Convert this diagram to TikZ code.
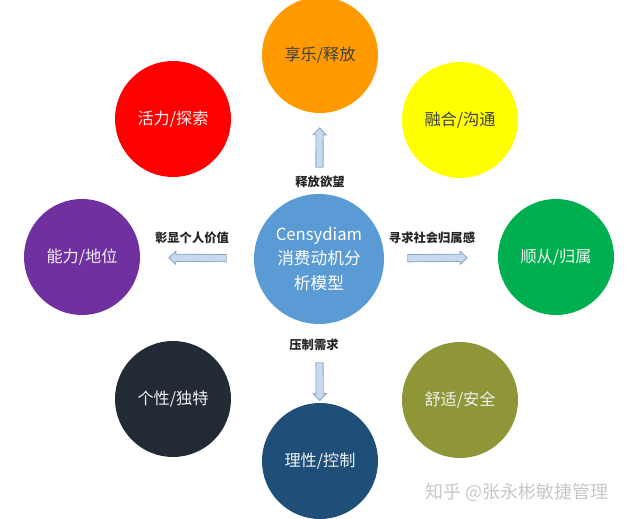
\documentclass[tikz,border=0pt]{standalone}
\usepackage{fontspec}
\setmainfont{Noto Sans CJK SC}
\usetikzlibrary{arrows.meta}
\definecolor{CoreBlue}{HTML}{5B9BD5}
\definecolor{PleasureOrange}{HTML}{FF9A00}
\definecolor{HarmonyYellow}{HTML}{FFFF00}
\definecolor{BelongGreen}{HTML}{00B050}
\definecolor{SecurityOlive}{HTML}{8E9638}
\definecolor{ControlNavy}{HTML}{1F4E79}
\definecolor{IdentityDark}{HTML}{222A35}
\definecolor{PowerPurple}{HTML}{7030A0}
\definecolor{VitalityRed}{HTML}{FF0000}
\definecolor{ArrowFill}{HTML}{C6D9F0}
\definecolor{ArrowEdge}{HTML}{8EA4BF}
\tikzset{
  motivenode/.style = {circle, align=center, inner sep=0pt, minimum size=2.32cm, font=\fontsize{9.2pt}{11pt}\selectfont},
  LightNode/.style = {motivenode, fill=#1, text=black!75},
  DarkNode/.style = {motivenode, fill=#1, text=white!95!black},
  CoreNode/.style = {circle, align=center, inner sep=0pt, minimum size=2.6cm, fill=CoreBlue, text=white, font=\fontsize{9.5pt}{14.2pt}\selectfont},
  FlowLabel/.style = {font=\fontsize{7pt}{8pt}\selectfont\bfseries, text=black!85},
  FlowArrow/.style 2 args = {draw=ArrowEdge, line width=4.6pt, shorten <=#1, shorten >=#2,
    -{Triangle[length=4.5pt, width=8.5pt, fill=ArrowFill, line width=0.5pt]},
    postaction={draw=ArrowFill, line width=3.6pt, arrows=-, shorten <=#1+0.5pt, shorten >=#2+3.6pt}}
}
\begin{document}
\begin{tikzpicture}[x=0.02cm, y=-0.02cm]
  \useasboundingbox (0,0) rectangle (628,519);
  \node [CoreNode] (core) at (319,259) {Censydiam\\消费动机分\\析模型};
  \node [LightNode=PleasureOrange] (pleasure) at (320,55) {享乐/释放};
  \node [LightNode=HarmonyYellow] (harmony) at (460,120) {融合/沟通};
  \node [DarkNode=BelongGreen] (belong) at (556,257) {顺从/归属};
  \node [DarkNode=SecurityOlive] (security) at (460,400) {舒适/安全};
  \node [DarkNode=ControlNavy] (control) at (320,461) {理性/控制};
  \node [DarkNode=IdentityDark] (identity) at (173,399) {个性/独特};
  \node [DarkNode=PowerPurple] (power) at (82,257) {能力/地位};
  \node [DarkNode=VitalityRed] (vitality) at (173,119) {活力/探索};
  % arrows out of the core
  \draw [FlowArrow={0.52cm}{0.28cm}] (core) -- (pleasure);
  \draw [FlowArrow={0.76cm}{0.03cm}] (core) -- (control);
  \draw [FlowArrow={0.54cm}{0.56cm}] (core) -- (power);
  \draw [FlowArrow={0.46cm}{0.6cm}] (core) -- (belong);
  \node [FlowLabel] (releaseLabel) at (320,182) {释放欲望};
  \node [FlowLabel] (suppressLabel) at (314,345) {压制需求};
  \node [FlowLabel] (valueLabel) at (192,238) {彰显个人价值};
  \node [FlowLabel] (belongLabel) at (432,238) {寻求社会归属感};
  \node [font=\fontsize{10.2pt}{12pt}\selectfont, text=black!22] (mark) at (517,492) {知乎 @张永彬敏捷管理};
\end{tikzpicture}
\end{document}
